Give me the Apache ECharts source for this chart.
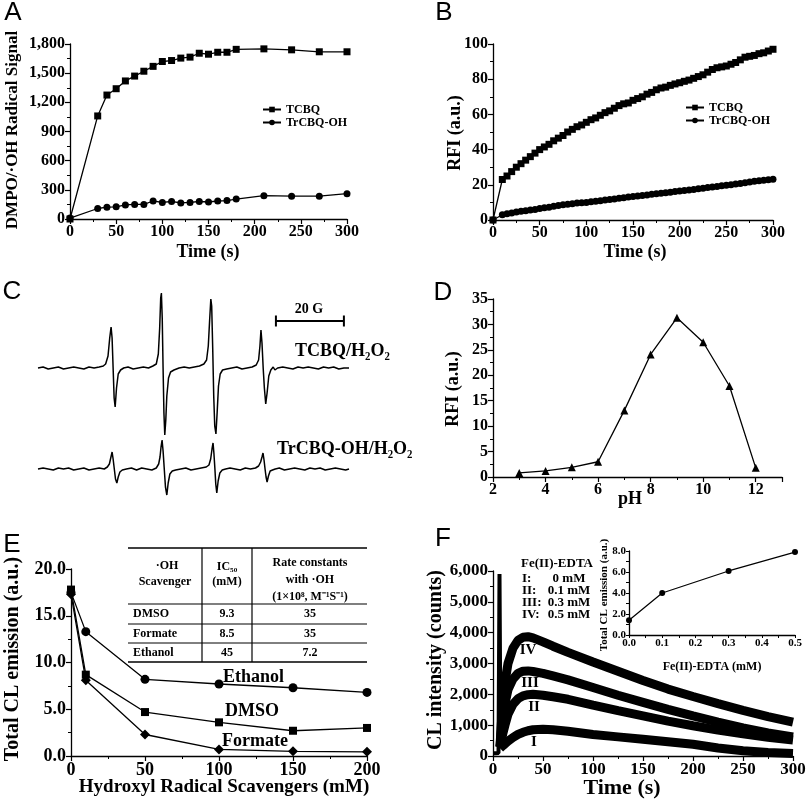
<!DOCTYPE html>
<html><head><meta charset="utf-8">
<script src="https://cdn.jsdelivr.net/npm/echarts@6/dist/echarts.min.js"></script>
<style>html,body{margin:0;padding:0;background:#fff}#c{width:807px;height:800px}</style>
</head><body><div id="c"></div>
<script>
// ---------- Panel A ----------
const aTime = [0,30,40,50,60,70,80,90,100,110,120,130,140,150,160,170,180,210,240,270,300];
const aTCBQ = [0,1060,1275,1340,1420,1470,1520,1570,1620,1630,1655,1665,1705,1695,1715,1715,1745,1750,1740,1720,1720];
const aTrCBQ = [10,108,122,125,145,150,150,185,170,180,165,170,180,175,185,190,205,240,235,235,260];
// ---------- Panel B ----------
const bTime = [0,10,15,20,25,30,35,40,45,50,55,60,65,70,75,80,85,90,95,100,105,110,115,120,125,130,135,140,145,150,155,160,165,170,175,180,185,190,195,200,205,210,215,220,225,230,235,240,245,250,255,260,265,270,275,280,285,290,295,300];
const bTCBQ = [0,23,25,27.5,30,32,34,36,38,40,41.5,43,45,46.5,48,50,51.5,53,54,55.5,57,58,59.5,61,62,63.5,65,66,66.5,68,69,70,71.5,72.5,74,75,75.5,76.5,77.3,78,78.8,79.5,80.5,81.5,82.5,84,85.5,86.5,87,87.5,88.5,89.5,91,92.5,93,93.5,94.5,95,96,97];
const bTrCBQ = [0,3,3.5,4,4.5,5,5.3,5.7,6,6.5,7,7.3,7.8,8.2,8.6,9,9.3,9.6,9.8,10,10.3,10.7,11,11.3,11.7,12,12.3,12.6,13,13.3,13.6,13.9,14.2,14.6,14.9,15.2,15.5,15.8,16.2,16.5,16.8,17.1,17.4,17.8,18.1,18.4,18.7,19,19.4,19.7,20,20.4,20.8,21.2,21.6,22,22.3,22.6,22.9,23.2];
// ---------- Panel C (EPR spectra, field in G, signal in arbitrary units) ----------
const cTopField = [0,1.5,3,4.5,6,7.5,9,10.5,12,13.5,15,16.5,18,
  19.2,19.9,20.6,21.1,21.5,21.8,22.1,22.4,22.7,23.1,23.6,24.3,
  25.2,26.5,28,29.5,31,32.5,33.8,
  34.8,35.4,35.8,36.1,36.3,36.55,36.8,37.05,37.3,37.6,37.9,38.4,39,40,
  41.5,43,44.5,46,47.5,48.8,
  49.6,50.1,50.5,50.85,51.1,51.4,51.7,52.0,52.35,52.7,53.1,53.6,54.3,
  55.5,57,58.5,60,61.5,63,
  64.2,64.9,65.3,65.6,65.9,66.25,66.6,67.0,67.4,67.9,68.5,69.2,69.7,
  70.5,72,73.5,75,76.5,78,79.5,81,82.5,84,85.5,87,88.5,90,91.5];
const cTopSignal = [0,1,-1,0,1,-1,0,1,0,-1,1,0,1,
  2,4,12,30,41,30,0,-30,-39,-20,-6,-2,
  0,1,-1,0,1,0,2,
  4,14,40,70,75,50,0,-45,-67,-52,-28,-10,-4,-2,
  0,1,0,1,2,4,
  8,22,48,69,62,20,-28,-58,-66,-45,-18,-6,-2,
  -1,0,1,-1,0,1,
  3,8,22,38,25,0,-20,-36,-25,-8,-2,1,-2,
  0,1,0,-1,1,0,1,0,-1,1,0,1,-1,0,0];
const cBotField = [0,1.5,3,4.5,6,7.5,9,10.5,12,13.5,15,16.5,18,19.5,
  20.4,21.0,21.4,21.8,22.1,22.45,22.8,23.2,23.6,24.1,24.8,
  26,27.5,29,30.5,32,33.5,34.8,
  35.5,35.9,36.2,36.5,36.8,37.15,37.5,37.9,38.3,38.8,39.5,40.5,
  42,43.5,45,46.5,48,49.5,
  50.3,50.8,51.2,51.5,51.75,52.05,52.3,52.6,53.0,53.5,54.2,55.2,
  56.5,58,59.5,61,62.5,64,
  64.9,65.5,65.9,66.2,66.5,66.8,67.1,67.4,67.8,68.3,69,69.8,
  71,72.5,74,75.5,77,78.5,80,81.5,83,84.5,86,87.5,89,90.5,91.5];
const cBotSignal = [0,1,0,-1,1,0,1,-1,0,1,-1,0,1,0,
  2,5,11,17,10,0,-10,-14,-8,-3,-1,
  0,1,-1,1,0,-1,1,
  5,12,22,29,18,0,-18,-26,-14,-5,-2,-1,
  0,1,-1,0,1,2,
  4,10,20,26,16,0,-15,-24,-12,-4,-1,0,
  1,0,-1,1,0,1,
  3,7,12,16,9,0,-8,-13,-7,-2,-1,0,
  1,-1,0,1,0,-1,1,0,1,-1,0,1,0,-1,0];
const cScaleBarField = [70, 90];   // 20 G scale bar
const cScaleBarLevel = 47;
// ---------- Panel D ----------
const dPH = [3,4,5,6,7,8,9,10,11,12];
const dRFI = [0.8,1.2,1.9,3.0,13.1,24.1,31.3,26.5,17.9,1.8];
// ---------- Panel E ----------
const eConc = [0,10,50,100,150,200];
const eEthanol = [17.5,13.3,8.2,7.7,7.3,6.8];
const eDMSO = [17.8,8.7,4.7,3.6,2.7,3.0];
const eFormate = [17.3,8.1,2.3,0.7,0.5,0.45];
const tableHeader = [['·OH','Scavenger'],['IC₅₀','(mM)'],['Rate constants','with ·OH','(1×10⁸, M⁻¹S⁻¹)']];
const tableNames = ['DMSO','Formate','Ethanol'];
const tableIC50 = ['9.3','8.5','45'];
const tableRate = ['35','35','7.2'];
// ---------- Panel F ----------
const fTime = [7,8,10,12,15,20,25,30,35,40,50,60,75,100,125,150,175,200,225,250,275,300];
const fIV  = [300,900,1800,2400,3000,3500,3750,3850,3870,3830,3700,3560,3360,3050,2750,2450,2170,1930,1700,1480,1280,1100];
const fIII = [300,700,1300,1700,2150,2500,2680,2750,2760,2740,2680,2600,2470,2220,1970,1740,1510,1300,1100,910,750,620];
const fII  = [300,450,750,1000,1350,1680,1860,1950,1990,2000,1970,1920,1840,1650,1470,1300,1130,980,840,720,610,520];
const fI   = [250,280,340,400,480,600,700,770,820,850,870,850,800,700,620,540,460,380,260,170,110,80];
const fSpikeTime = [0,3,5.5,6.5,7.5];
const fSpikeCounts = [90,90,100,5900,300];
const fLegendNames = ['I:','II:','III:','IV:'];
const fLegendConc = ['0 mM','0.1 mM','0.3 mM','0.5 mM'];
const insetConc = [0,0.1,0.3,0.5];
const insetTotal = [1.4,4.0,6.1,7.9];

const SERIF = '"Liberation Serif","Times New Roman",serif';
const SANS = '"Liberation Sans",Arial,sans-serif';
const zip = (xs, ys) => xs.map((x, i) => [x, ys[i]]);
const comma = v => Math.round(v).toLocaleString('en-US');

function axis(grid, min, max, interval, fontSize, fmt, extra) {
  return Object.assign({
    type: 'value', gridIndex: grid, min, max, interval,
    axisLine: {show: true, onZero: false, lineStyle: {color: '#000', width: 1.3}},
    axisTick: {show: true, inside: false, length: 5, lineStyle: {color: '#000', width: 1.2}},
    minorTick: {show: true, splitNumber: 2, length: 3, lineStyle: {color: '#000', width: 1}},
    splitLine: {show: false},
    axisLabel: {color: '#000', fontFamily: SERIF, fontWeight: 'bold', fontSize, margin: 5, formatter: fmt}
  }, extra || {});
}
function hidden(grid, min, max) {
  return {type: 'value', gridIndex: grid, min, max, show: false, splitLine: {show: false}};
}
function line(name, xi, data, symbol, size, extra) {
  return Object.assign({
    name, type: 'line', xAxisIndex: xi, yAxisIndex: xi, data,
    symbol, symbolSize: size, showSymbol: symbol !== 'none',
    lineStyle: {color: '#000', width: 1.3}, itemStyle: {color: '#000'},
    animation: false, silent: true, z: 3
  }, extra || {});
}
function txt(x, y, text, size, o) {
  o = o || {};
  return {type: 'text', x, y, rotation: o.rot || 0, z: 100, silent: true,
    style: {text, fill: '#000', font: (o.weight || 'bold') + ' ' + size + 'px ' + (o.family || SERIF),
      align: o.align || 'center', verticalAlign: 'middle'}};
}
function hline(x1, x2, y, w) { return {type: 'line', z: 100, silent: true, shape: {x1, y1: y, x2, y2: y}, style: {stroke: '#000', lineWidth: w || 1}}; }
function vline(x, y1, y2, w) { return {type: 'line', z: 100, silent: true, shape: {x1: x, y1, x2: x, y2}, style: {stroke: '#000', lineWidth: w || 1}}; }

const R = Math.PI / 2;
const graphics = [
  txt(13, 13, 'A', 26, {weight: 'normal', family: SANS}),
  txt(444, 13, 'B', 26, {weight: 'normal', family: SANS}),
  txt(12, 292, 'C', 26, {weight: 'normal', family: SANS}),
  txt(443, 293, 'D', 26, {weight: 'normal', family: SANS}),
  txt(12, 545, 'E', 26, {weight: 'normal', family: SANS}),
  txt(443, 539, 'F', 26, {weight: 'normal', family: SANS}),
  txt(13, 130, 'DMPO/·OH Radical Signal', 17, {rot: R}),
  txt(208, 252, 'Time (s)', 18),
  txt(455, 133, 'RFI (a.u.)', 18, {rot: R}),
  txt(635, 252, 'Time (s)', 18),
  txt(309, 309, '20 G', 14),
  txt(295, 351, 'TCBQ/H₂O₂', 18, {align: 'left'}),
  txt(277, 449, 'TrCBQ-OH/H₂O₂', 18, {align: 'left'}),
  txt(453, 389, 'RFI (a.u.)', 18, {rot: R}),
  txt(630, 499, 'pH', 18),
  txt(13, 659, 'Total CL emission (a.u.)', 20, {rot: R}),
  txt(224, 787, 'Hydroxyl Radical Scavengers (mM)', 19),
  txt(223, 677, 'Ethanol', 18, {align: 'left'}),
  txt(225, 711, 'DMSO', 18, {align: 'left'}),
  txt(222, 741, 'Formate', 18, {align: 'left'}),
  txt(436, 660, 'CL intensity (counts)', 20, {rot: R}),
  txt(622, 788, 'Time (s)', 22),
  txt(604, 595, 'Total CL emission (a.u.)', 11, {rot: R}),
  txt(712, 667, 'Fe(II)-EDTA (mM)', 12),
  txt(557, 564, 'Fe(II)-EDTA', 13),
  txt(528, 650, 'IV', 15), txt(530, 683, 'III', 15), txt(534, 707, 'II', 15), txt(534, 742, 'I', 15)
];
const legY = [579, 591, 603, 615];
fLegendNames.forEach((n, i) => {
  graphics.push(txt(522, legY[i], n, 13, {align: 'left'}));
  graphics.push(txt(569, legY[i], fLegendConc[i], 13));
});
// table in panel E
const tRows = [548, 604, 624, 643, 662];
graphics.push(hline(128, 367, tRows[0], 1.6), hline(128, 367, tRows[1], 1.2), hline(128, 367, tRows[2], 1),
  hline(128, 367, tRows[3], 1), hline(128, 367, tRows[4], 1.6), vline(202, 548, 662, 1.2), vline(252, 548, 662, 1.2));
graphics.push(txt(167, 566, tableHeader[0][0], 12), txt(165, 582, tableHeader[0][1], 12),
  txt(227, 567, tableHeader[1][0], 12), txt(227, 582, tableHeader[1][1], 12),
  txt(310, 563, tableHeader[2][0], 12), txt(310, 580, tableHeader[2][1], 12), txt(310, 597, tableHeader[2][2], 12));
tableNames.forEach((n, i) => {
  const y = (tRows[i + 1] + tRows[i + 2]) / 2;
  graphics.push(txt(133, y, n, 12, {align: 'left'}), txt(227, y, tableIC50[i], 12), txt(310, y, tableRate[i], 12));
});

const legendText = {fontFamily: SERIF, fontWeight: 'bold', fontSize: 12, lineHeight: 13, color: '#000'};
const insetLabel = {color: '#000', fontFamily: SERIF, fontWeight: 'bold', fontSize: 11, margin: 3};
const option = {
  backgroundColor: '#fff',
  animation: false,
  grid: [
    {left: 70, top: 44, width: 277, height: 175},
    {left: 493, top: 44, width: 280, height: 176},
    {left: 38, top: 288, width: 311, height: 160},
    {left: 38, top: 389, width: 311, height: 160},
    {left: 493, top: 299, width: 289, height: 178},
    {left: 71, top: 569, width: 296, height: 187},
    {left: 493, top: 571, width: 300, height: 185},
    {left: 629, top: 551, width: 166, height: 84}
  ].map(g => Object.assign({containLabel: false, outerBoundsMode: 'none'}, g)),
  xAxis: [
    axis(0, 0, 300, 50, 16),
    axis(1, 0, 300, 50, 16),
    hidden(2, 0, 91.5),
    hidden(3, 0, 91.5),
    axis(4, 2, 13, 2, 16, null, {axisLabel: {color: '#000', fontFamily: SERIF, fontWeight: 'bold', fontSize: 16, margin: 5, showMaxLabel: false}}),
    axis(5, 0, 200, 50, 18),
    axis(6, 0, 300, 50, 17),
    axis(7, 0, 0.5, 0.1, 11, null, {axisTick: {show: true, length: 3, lineStyle: {color: '#000'}}, axisLabel: Object.assign({formatter: v => v.toFixed(1)}, insetLabel)})
  ],
  yAxis: [
    axis(0, 0, 1800, 300, 16, comma),
    axis(1, 0, 100, 20, 16),
    hidden(2, -80, 80),
    hidden(3, -80, 80),
    axis(4, 0, 35, 5, 16),
    axis(5, 0, 20, 5, 18, v => v.toFixed(1)),
    axis(6, 0, 6000, 1000, 17, comma),
    axis(7, 0, 8, 2, 11, null, {axisTick: {show: true, length: 3, lineStyle: {color: '#000'}}, axisLabel: Object.assign({formatter: v => v.toFixed(1)}, insetLabel)})
  ],
  legend: [
    {data: ['TCBQ', 'TrCBQ-OH'], orient: 'vertical', left: 257, top: 98, itemWidth: 18, itemHeight: 7, itemGap: 0, selectedMode: false, textStyle: legendText},
    {data: ['TCBQ', 'TrCBQ-OH'], orient: 'vertical', left: 680, top: 96, itemWidth: 18, itemHeight: 7, itemGap: 0, selectedMode: false, textStyle: legendText}
  ],
  graphic: graphics,
  series: [
    line('TCBQ', 0, zip(aTime, aTCBQ), 'rect', 7),
    line('TrCBQ-OH', 0, zip(aTime, aTrCBQ), 'circle', 7),
    line('TCBQ', 1, zip(bTime, bTCBQ), 'rect', 7),
    line('TrCBQ-OH', 1, zip(bTime, bTrCBQ), 'circle', 7),
    line('TCBQ/H2O2', 2, zip(cTopField, cTopSignal), 'none', 0, {lineStyle: {color: '#000', width: 1.5}}),
    line('20 G', 2, zip(cScaleBarField, cScaleBarField.map(() => cScaleBarLevel)), 'rect', [2, 11], {lineStyle: {color: '#000', width: 2}}),
    line('TrCBQ-OH/H2O2', 3, zip(cBotField, cBotSignal), 'none', 0, {lineStyle: {color: '#000', width: 1.5}}),
    line('RFI', 4, zip(dPH, dRFI), 'triangle', 8),
    line('Ethanol', 5, zip(eConc, eEthanol), 'circle', 9),
    line('DMSO', 5, zip(eConc, eDMSO), 'rect', 8),
    line('Formate', 5, zip(eConc, eFormate), 'diamond', 10),
    line('I', 6, zip(fTime, fI), 'none', 0, {lineStyle: {color: '#000', width: 9}}),
    line('II', 6, zip(fTime, fII), 'none', 0, {lineStyle: {color: '#000', width: 9}}),
    line('III', 6, zip(fTime, fIII), 'none', 0, {lineStyle: {color: '#000', width: 9}}),
    line('IV', 6, zip(fTime, fIV), 'none', 0, {lineStyle: {color: '#000', width: 9}}),
    line('injection', 6, zip(fSpikeTime, fSpikeCounts), 'none', 0, {lineStyle: {color: '#000', width: 4}}),
    line('Total CL', 7, zip(insetConc, insetTotal), 'circle', 6, {lineStyle: {color: '#000', width: 1.2}})
  ]
};
const chart = echarts.init(document.getElementById('c'), null, {renderer: 'canvas'});
chart.setOption(option);
</script>
</body></html>
